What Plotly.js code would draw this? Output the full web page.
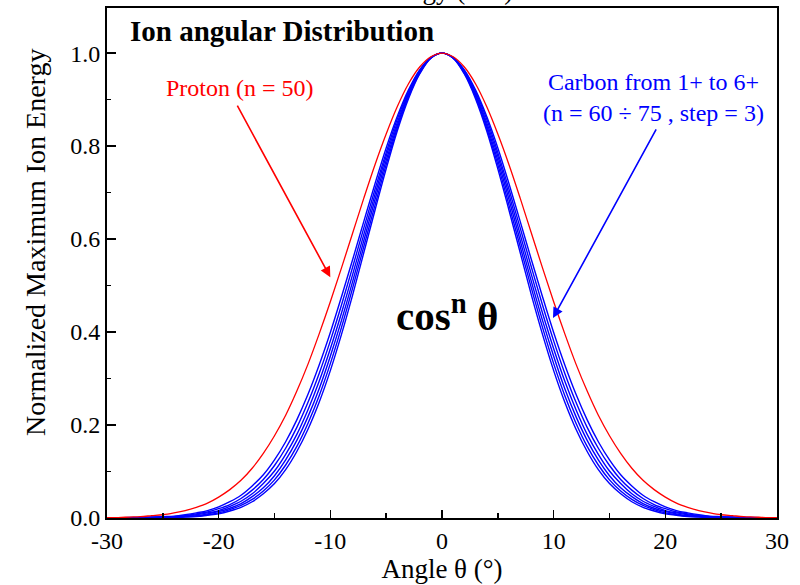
<!DOCTYPE html>
<html>
<head>
<meta charset="utf-8">
<script src="https://cdn.plot.ly/plotly-3.0.1.min.js"></script>
<style>
  html, body { margin: 0; padding: 0; background: #fff; }
  #chart { width: 800px; height: 585px; }
</style>
</head>
<body>
<div id="chart"></div>
<script>
// Angle θ (degrees)
const angles = [-30,-29,-28,-27,-26,-25,-24,-23,-22,-21,-20,-19,-18,-17,-16,-15,-14,-13,-12,-11,-10,-9,-8,-7,-6,-5,-4,-3,-2,-1,0,1,2,3,4,5,6,7,8,9,10,11,12,13,14,15,16,17,18,19,20,21,22,23,24,25,26,27,28,29,30];

// Proton (n = 50)
const proton = [0.001,0.001,0.002,0.003,0.005,0.007,0.011,0.016,0.023,0.032,0.045,0.061,0.081,0.107,0.139,0.177,0.221,0.273,0.331,0.396,0.465,0.538,0.613,0.688,0.760,0.826,0.885,0.934,0.970,0.992,1,0.992,0.970,0.934,0.885,0.826,0.760,0.688,0.613,0.538,0.465,0.396,0.331,0.273,0.221,0.177,0.139,0.107,0.081,0.061,0.045,0.032,0.023,0.016,0.011,0.007,0.005,0.003,0.002,0.001,0.001];

// Carbon 1+ .. 6+ (n = 60, 63, 66, 69, 72, 75)
const carbonN60 = [0,0,0.001,0.001,0.002,0.003,0.004,0.007,0.011,0.016,0.024,0.035,0.049,0.069,0.093,0.125,0.164,0.211,0.266,0.329,0.399,0.476,0.556,0.638,0.719,0.796,0.864,0.921,0.964,0.991,1,0.991,0.964,0.921,0.864,0.796,0.719,0.638,0.556,0.476,0.399,0.329,0.266,0.211,0.164,0.125,0.093,0.069,0.049,0.035,0.024,0.016,0.011,0.007,0.004,0.003,0.002,0.001,0.001,0,0];
const carbonN63 = [0,0,0,0.001,0.001,0.002,0.003,0.005,0.009,0.013,0.020,0.029,0.042,0.060,0.083,0.113,0.150,0.195,0.249,0.311,0.381,0.458,0.540,0.624,0.707,0.786,0.858,0.917,0.962,0.990,1,0.990,0.962,0.917,0.858,0.786,0.707,0.624,0.540,0.458,0.381,0.311,0.249,0.195,0.150,0.113,0.083,0.060,0.042,0.029,0.020,0.013,0.009,0.005,0.003,0.002,0.001,0.001,0,0,0];
const carbonN66 = [0,0,0,0,0.001,0.002,0.003,0.004,0.007,0.011,0.016,0.025,0.036,0.052,0.074,0.101,0.137,0.180,0.233,0.294,0.364,0.441,0.524,0.610,0.696,0.778,0.851,0.913,0.961,0.990,1,0.990,0.961,0.913,0.851,0.778,0.696,0.610,0.524,0.441,0.364,0.294,0.233,0.180,0.137,0.101,0.074,0.052,0.036,0.025,0.016,0.011,0.007,0.004,0.003,0.002,0.001,0,0,0,0];
const carbonN69 = [0,0,0,0,0.001,0.001,0.002,0.003,0.005,0.009,0.014,0.021,0.031,0.046,0.065,0.091,0.125,0.167,0.218,0.278,0.348,0.425,0.509,0.597,0.685,0.769,0.845,0.910,0.959,0.990,1,0.990,0.959,0.910,0.845,0.769,0.685,0.597,0.509,0.425,0.348,0.278,0.218,0.167,0.125,0.091,0.065,0.046,0.031,0.021,0.014,0.009,0.005,0.003,0.002,0.001,0.001,0,0,0,0];
const carbonN72 = [0,0,0,0,0,0.001,0.001,0.003,0.004,0.007,0.011,0.018,0.027,0.040,0.058,0.082,0.114,0.154,0.204,0.263,0.332,0.410,0.495,0.584,0.673,0.760,0.839,0.906,0.957,0.989,1,0.989,0.957,0.906,0.839,0.760,0.673,0.584,0.495,0.410,0.332,0.263,0.204,0.154,0.114,0.082,0.058,0.040,0.027,0.018,0.011,0.007,0.004,0.003,0.001,0.001,0,0,0,0,0];
const carbonN75 = [0,0,0,0,0,0.001,0.001,0.002,0.003,0.006,0.009,0.015,0.023,0.035,0.052,0.074,0.104,0.143,0.191,0.249,0.317,0.395,0.480,0.571,0.662,0.751,0.833,0.902,0.955,0.989,1,0.989,0.955,0.902,0.833,0.751,0.662,0.571,0.480,0.395,0.317,0.249,0.191,0.143,0.104,0.074,0.052,0.035,0.023,0.015,0.009,0.006,0.003,0.002,0.001,0.001,0,0,0,0,0];

const carbonSeries = [carbonN60, carbonN63, carbonN66, carbonN69, carbonN72, carbonN75];
const carbonNames = ['C1+ (n = 60)', 'C2+ (n = 63)', 'C3+ (n = 66)', 'C4+ (n = 69)', 'C5+ (n = 72)', 'C6+ (n = 75)'];

const xTickVals = [-30, -20, -10, 0, 10, 20, 30];
const xTickText = ['-30', '-20', '-10', '0', '10', '20', '30'];
const yTickVals = [0, 0.2, 0.4, 0.6, 0.8, 1.0];
const yTickText = ['0.0', '0.2', '0.4', '0.6', '0.8', '1.0'];

const FONT = "'Liberation Serif', 'Times New Roman', serif";

const traces = [];
carbonSeries.forEach((ys, i) => {
  traces.push({
    x: angles, y: ys, type: 'scatter', mode: 'lines', name: carbonNames[i],
    line: { color: '#0000ff', width: 1.4, shape: 'spline' }
  });
});
traces.push({
  x: angles, y: proton, type: 'scatter', mode: 'lines', name: 'Proton (n = 50)',
  line: { color: '#ff0000', width: 1.3, shape: 'spline' }
});

const layout = {
  width: 800, height: 585,
  margin: { l: 107, r: 23, t: 8, b: 67 },
  paper_bgcolor: '#fff', plot_bgcolor: '#fff',
  showlegend: false,
  font: { family: FONT, color: '#000', size: 24 },
  xaxis: {
    range: [-30, 30], tickmode: 'array', tickvals: xTickVals, ticktext: xTickText,
    ticks: 'inside', ticklen: 8, tickwidth: 1.5, tickcolor: '#000',
    minor: { dtick: 5, ticks: 'inside', ticklen: 5, tickwidth: 1.5, tickcolor: '#000' },
    showline: true, linecolor: '#000', linewidth: 2, mirror: true,
    showgrid: false, zeroline: false,
    tickfont: { family: FONT, size: 24, color: '#000' },
    title: { text: 'Angle θ (°)', font: { family: FONT, size: 27, color: '#000' }, standoff: 4 }
  },
  yaxis: {
    range: [0, 1.097], tickmode: 'array', tickvals: yTickVals, ticktext: yTickText,
    ticks: 'inside', ticklen: 9, tickwidth: 1.5, tickcolor: '#000',
    minor: { dtick: 0.1, ticks: 'inside', ticklen: 4, tickwidth: 1.5, tickcolor: '#000' },
    showline: true, linecolor: '#000', linewidth: 2, mirror: true,
    showgrid: false, zeroline: false,
    tickfont: { family: FONT, size: 24, color: '#000' }
  },
  annotations: [
    { xref: 'paper', yref: 'paper', x: -0.1075, y: 0.541, text: 'Normalized Maximum Ion Energy',
      textangle: -90, showarrow: false, xanchor: 'center', yanchor: 'middle',
      font: { family: FONT, size: 28, color: '#000' } },
    { xref: 'paper', yref: 'paper', x: 0.5, y: 1.002, text: 'Energy (a.u.)',
      showarrow: false, xanchor: 'center', yanchor: 'bottom',
      font: { family: FONT, size: 27, color: '#000' } },
    { xref: 'paper', yref: 'paper', x: 0.031, y: 0.955, text: '<b>Ion angular Distribution</b>',
      showarrow: false, xanchor: 'left', yanchor: 'middle',
      font: { family: FONT, size: 29, color: '#000' } },
    { xref: 'x', yref: 'y', x: -18.1, y: 0.925, text: 'Proton (n = 50)',
      showarrow: false, xanchor: 'center', yanchor: 'middle',
      font: { family: FONT, size: 24, color: '#ff0000' } },
    { xref: 'x', yref: 'y', x: 18.9, y: 0.905, text: 'Carbon from 1+ to 6+<br>(n = 60 ÷ 75 , step = 3)',
      showarrow: false, xanchor: 'center', yanchor: 'middle',
      font: { family: FONT, size: 24, color: '#0000ff' } },
    { xref: 'x', yref: 'y', x: 0.45, y: 0.441, text: '<b>cos<sup>n</sup> θ</b>',
      showarrow: false, xanchor: 'center', yanchor: 'middle',
      font: { family: FONT, size: 41, color: '#000' } },
    { xref: 'x', yref: 'y', x: -10.0, y: 0.518, axref: 'x', ayref: 'y', ax: -18.4, ay: 0.89,
      text: '', showarrow: true, arrowhead: 2, arrowsize: 1.3, arrowwidth: 1.6, arrowcolor: '#ff0000' },
    { xref: 'x', yref: 'y', x: 9.94, y: 0.43, axref: 'x', ayref: 'y', ax: 19.25, ay: 0.839,
      text: '', showarrow: true, arrowhead: 2, arrowsize: 1.3, arrowwidth: 1.6, arrowcolor: '#0000ff' }
  ]
};

Plotly.newPlot('chart', traces, layout, { displayModeBar: false, staticPlot: true });
</script>
</body>
</html>
